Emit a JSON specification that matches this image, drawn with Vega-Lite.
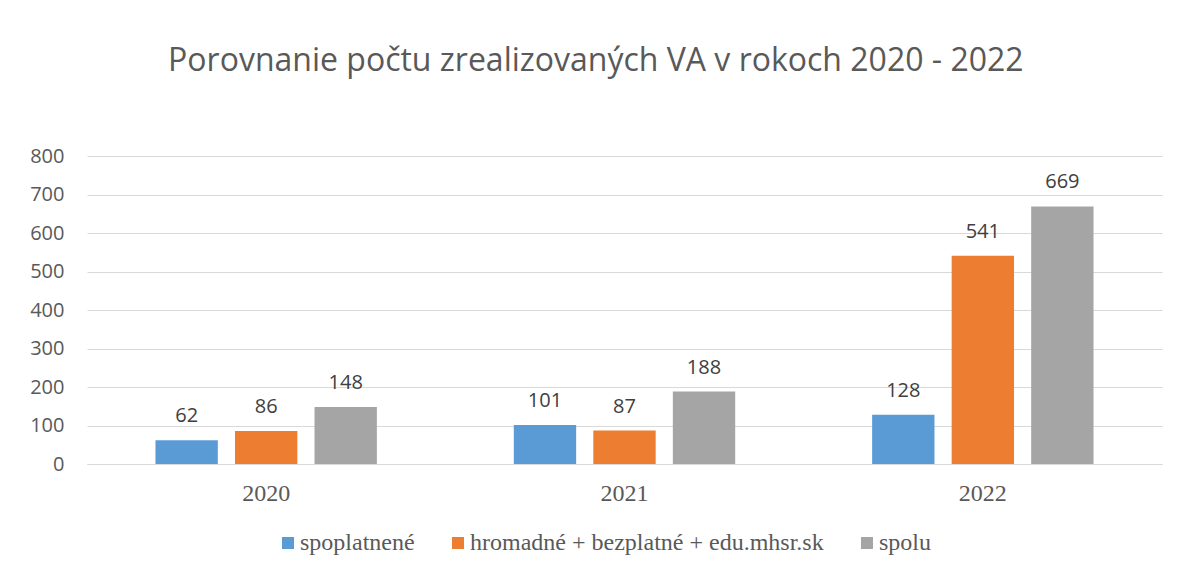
{
  "$schema": "https://vega.github.io/schema/vega-lite/v6.json",
  "autosize": "none",
  "width": 1075,
  "height": 308,
  "padding": {"left": 87, "top": 156, "right": 16, "bottom": 112},
  "background": "white",
  "title": {
    "text": "Porovnanie počtu zrealizovaných VA v rokoch 2020 - 2022",
    "font": "Open Sans",
    "fontSize": 32,
    "fontWeight": "normal",
    "color": "#595959",
    "anchor": "middle",
    "frame": "bounds",
    "baseline": "alphabetic",
    "offset": 43
  },
  "data": {
    "values": [
      {"rok": "2020", "typ": "spoplatnené", "pocet": 62},
      {"rok": "2020", "typ": "hromadné + bezplatné + edu.mhsr.sk", "pocet": 86},
      {"rok": "2020", "typ": "spolu", "pocet": 148},
      {"rok": "2021", "typ": "spoplatnené", "pocet": 101},
      {"rok": "2021", "typ": "hromadné + bezplatné + edu.mhsr.sk", "pocet": 87},
      {"rok": "2021", "typ": "spolu", "pocet": 188},
      {"rok": "2022", "typ": "spoplatnené", "pocet": 128},
      {"rok": "2022", "typ": "hromadné + bezplatné + edu.mhsr.sk", "pocet": 541},
      {"rok": "2022", "typ": "spolu", "pocet": 669}
    ]
  },
  "encoding": {
    "x": {
      "field": "rok",
      "type": "nominal",
      "title": null,
      "scale": {"paddingInner": 0, "paddingOuter": 0},
      "axis": {
        "labelAngle": 0,
        "labelFont": "Liberation Serif",
        "labelFontSize": 24,
        "labelColor": "#595959",
        "labelBaseline": "alphabetic",
        "labelPadding": 36,
        "ticks": false,
        "tickSize": 0,
        "domainColor": "#D9D9D9",
        "domainWidth": 1,
        "grid": false
      }
    },
    "xOffset": {
      "field": "typ",
      "type": "nominal",
      "sort": ["spoplatnené", "hromadné + bezplatné + edu.mhsr.sk", "spolu"],
      "scale": {"paddingInner": 0.216, "paddingOuter": 0.861}
    },
    "y": {
      "field": "pocet",
      "type": "quantitative",
      "title": null,
      "scale": {"domain": [0, 800], "nice": false},
      "axis": {
        "values": [0, 100, 200, 300, 400, 500, 600, 700, 800],
        "labelFont": "Open Sans",
        "labelFontSize": 20,
        "labelColor": "#595959",
        "labelPadding": 23,
        "ticks": false,
        "tickSize": 0,
        "domain": false,
        "grid": true,
        "gridColor": "#D9D9D9",
        "gridWidth": 1
      }
    }
  },
  "layer": [
    {
      "mark": {"type": "bar"},
      "encoding": {
        "color": {
          "field": "typ",
          "type": "nominal",
          "title": null,
          "scale": {
            "domain": ["spoplatnené", "hromadné + bezplatné + edu.mhsr.sk", "spolu"],
            "range": ["#5B9BD5", "#ED7D31", "#A5A5A5"]
          },
          "legend": {
            "orient": "none",
            "direction": "horizontal",
            "legendX": 189,
            "legendY": 375,
            "padding": 0,
            "symbolType": "square",
            "symbolSize": 144,
            "symbolStrokeWidth": 0,
            "labelFont": "Liberation Serif",
            "labelFontSize": 24,
            "labelColor": "#595959",
            "labelOffset": 0,
            "columnPadding": 31,
            "labelLimit": 0
          }
        }
      }
    },
    {
      "mark": {
        "type": "text",
        "font": "Open Sans",
        "fontSize": 20,
        "color": "#404040",
        "baseline": "alphabetic",
        "dy": -18
      },
      "encoding": {
        "text": {"field": "pocet", "type": "quantitative"}
      }
    }
  ],
  "config": {
    "view": {"stroke": null}
  }
}
